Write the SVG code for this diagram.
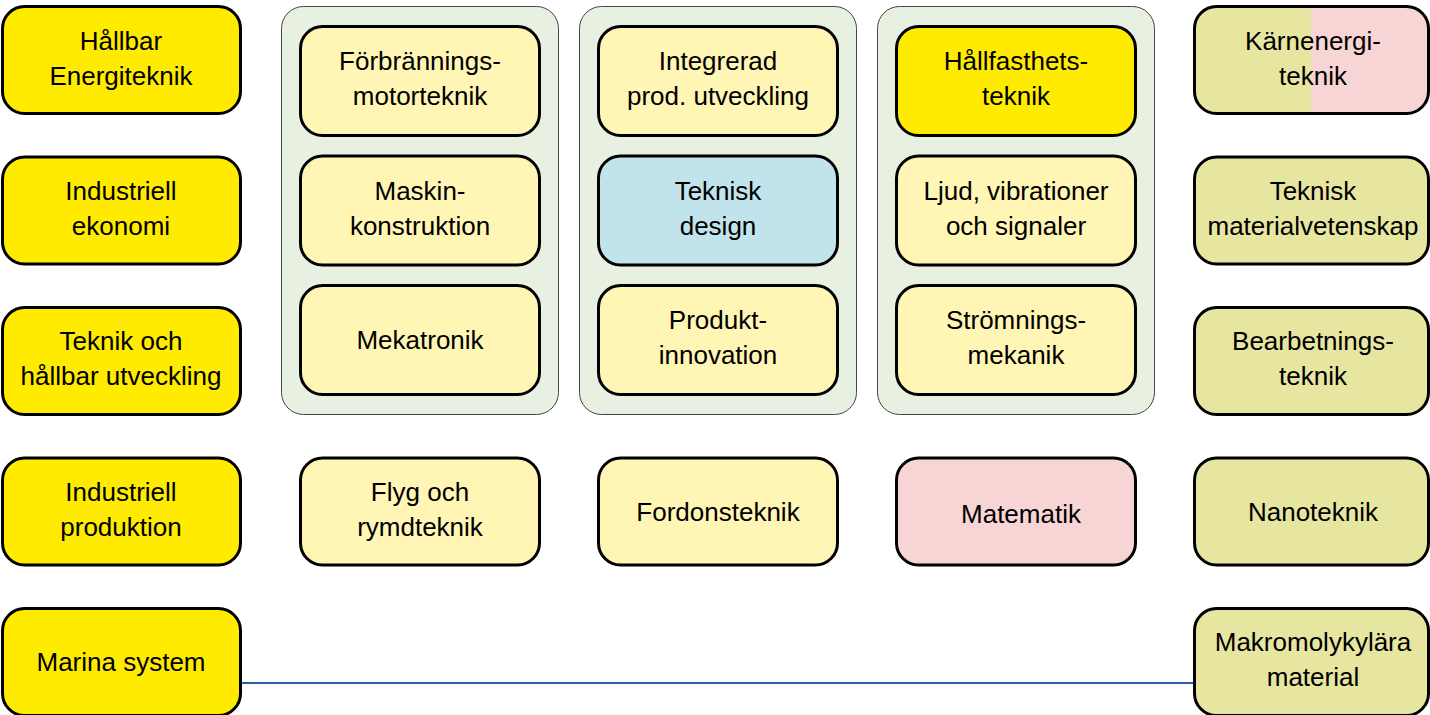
<svg xmlns="http://www.w3.org/2000/svg" width="1430" height="715" viewBox="0 0 1430 715">
<defs>
<style>
.n{stroke:#000;stroke-width:3}
.y{fill:#ffeb00}
.ly{fill:#fff5b5}
.b{fill:#c0e3ec}
.p{fill:#f8d5d5}
.o{fill:#e6e6a0}
.g{fill:#e8f0e2;stroke:#444;stroke-width:1}
text{font-family:"Liberation Sans",Arial,sans-serif;font-size:26px;fill:#000;text-anchor:middle}
</style>
<linearGradient id="split" x1="0" y1="0" x2="1" y2="0">
<stop offset="0.5" stop-color="#e6e6a0"/>
<stop offset="0.5" stop-color="#f8d5d5"/>
</linearGradient>
</defs>
<rect width="1430" height="715" fill="#fff"/>
<g id="groups">
<rect id="grp1" class="g" x="281.5" y="6.5" width="277" height="408" rx="22"/>
<rect id="grp2" class="g" x="579.5" y="6.5" width="277" height="408" rx="22"/>
<rect id="grp3" class="g" x="877.5" y="6.5" width="277" height="408" rx="22"/>
</g>
<g id="connectors">
<line x1="241" y1="683" x2="1195" y2="683" stroke="#2b5caa" stroke-width="2"/>
</g>
<g id="n-hallbar"><rect class="n y" x="2.5" y="6.5" width="238" height="107" rx="22"/><text x="121" y="50">Hållbar</text><text x="121" y="85">Energiteknik</text></g>
<g id="n-indek"><rect class="n y" x="2.5" y="157" width="238" height="107" rx="22"/><text x="121" y="200">Industriell</text><text x="121" y="235">ekonomi</text></g>
<g id="n-teknikhall"><rect class="n y" x="2.5" y="307.5" width="238" height="107" rx="22"/><text x="121" y="350">Teknik och</text><text x="121" y="385">hållbar utveckling</text></g>
<g id="n-indprod"><rect class="n y" x="2.5" y="458" width="238" height="107" rx="22"/><text x="121" y="501">Industriell</text><text x="121" y="536">produktion</text></g>
<g id="n-marina"><rect class="n y" x="2.5" y="608.5" width="238" height="107" rx="22"/><text x="121" y="671">Marina system</text></g>

<g id="n-forbr"><rect class="n ly" x="300.5" y="26.5" width="239" height="109" rx="22"/><text x="420" y="70">Förbrännings-</text><text x="420" y="105">motorteknik</text></g>
<g id="n-maskin"><rect class="n ly" x="300.5" y="156" width="239" height="109" rx="22"/><text x="420" y="200">Maskin-</text><text x="420" y="235">konstruktion</text></g>
<g id="n-mekatronik"><rect class="n ly" x="300.5" y="285.5" width="239" height="109" rx="22"/><text x="420" y="349">Mekatronik</text></g>
<g id="n-flyg"><rect class="n ly" x="300.5" y="458" width="239" height="107" rx="22"/><text x="420" y="501">Flyg och</text><text x="420" y="536">rymdteknik</text></g>

<g id="n-integrerad"><rect class="n ly" x="598.5" y="26.5" width="239" height="109" rx="22"/><text x="718" y="70">Integrerad</text><text x="718" y="105">prod. utveckling</text></g>
<g id="n-design"><rect class="n b" x="598.5" y="156" width="239" height="109" rx="22"/><text x="718" y="200">Teknisk</text><text x="718" y="235">design</text></g>
<g id="n-produkt"><rect class="n ly" x="598.5" y="285.5" width="239" height="109" rx="22"/><text x="718" y="329">Produkt-</text><text x="718" y="364">innovation</text></g>
<g id="n-fordon"><rect class="n ly" x="598.5" y="458" width="239" height="107" rx="22"/><text x="718" y="521">Fordonsteknik</text></g>

<g id="n-hallfast"><rect class="n y" x="896.5" y="26.5" width="239" height="109" rx="22"/><text x="1016" y="70">Hållfasthets-</text><text x="1016" y="105">teknik</text></g>
<g id="n-ljud"><rect class="n ly" x="896.5" y="156" width="239" height="109" rx="22"/><text x="1016" y="200">Ljud, vibrationer</text><text x="1016" y="235">och signaler</text></g>
<g id="n-stromning"><rect class="n ly" x="896.5" y="285.5" width="239" height="109" rx="22"/><text x="1016" y="329">Strömnings-</text><text x="1016" y="364">mekanik</text></g>
<g id="n-matematik"><rect class="n p" x="896.5" y="458" width="239" height="107" rx="22"/><text x="1021" y="523">Matematik</text></g>

<g id="n-karn"><rect class="n" fill="url(#split)" x="1194.5" y="6.5" width="234" height="107" rx="22"/><text x="1313" y="50">Kärnenergi-</text><text x="1313" y="85">teknik</text></g>
<g id="n-matvet"><rect class="n o" x="1194.5" y="157" width="234" height="107" rx="22"/><text x="1313" y="200">Teknisk</text><text x="1313" y="235">materialvetenskap</text></g>
<g id="n-bearb"><rect class="n o" x="1194.5" y="307.5" width="234" height="107" rx="22"/><text x="1313" y="350">Bearbetnings-</text><text x="1313" y="385">teknik</text></g>
<g id="n-nano"><rect class="n o" x="1194.5" y="458" width="234" height="107" rx="22"/><text x="1313" y="521">Nanoteknik</text></g>
<g id="n-makro"><rect class="n o" x="1194.5" y="608.5" width="234" height="107" rx="22"/><text x="1313" y="651">Makromolykylära</text><text x="1313" y="686">material</text></g>
</svg>
